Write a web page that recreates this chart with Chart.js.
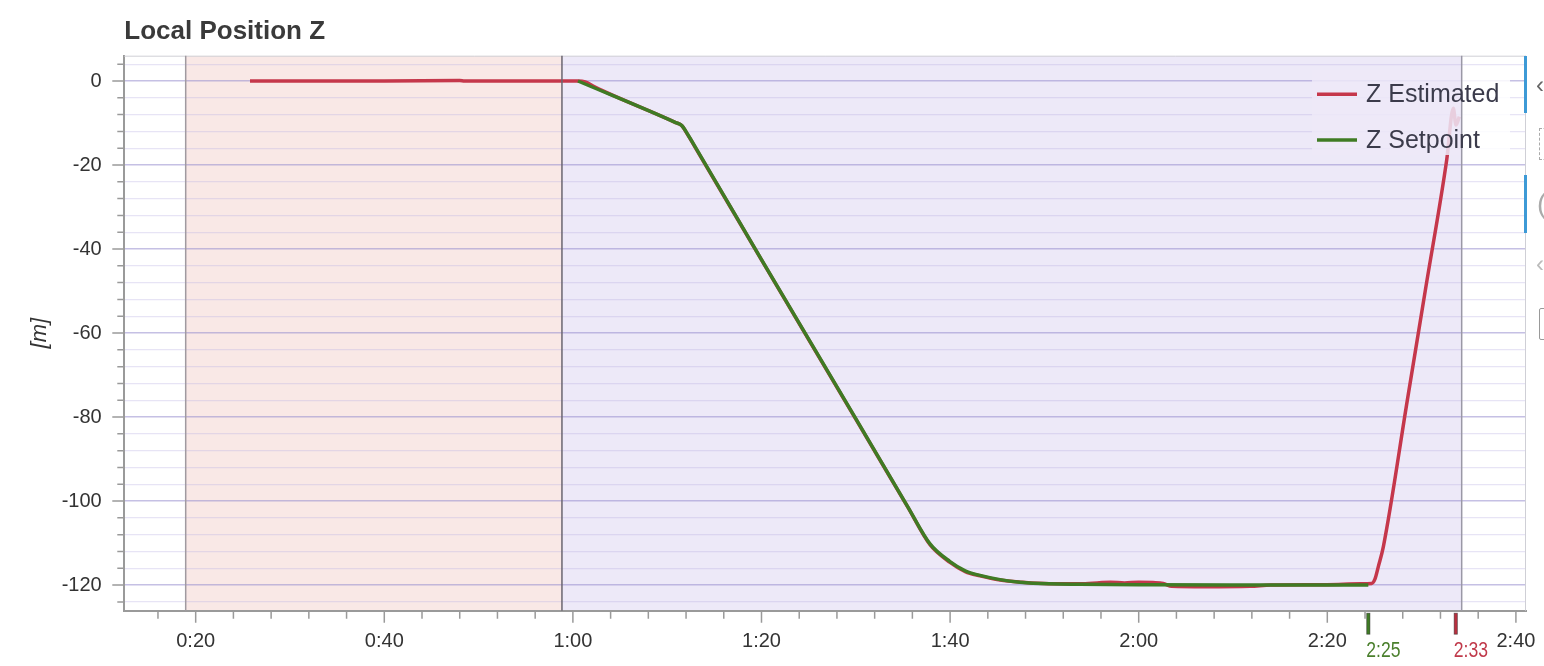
<!DOCTYPE html>
<html>
<head>
<meta charset="utf-8">
<script src="https://cdn.jsdelivr.net/npm/chart.js@4.4.0/dist/chart.umd.min.js"></script>
<style>
  html, body { margin: 0; padding: 0; background: #ffffff; }
  #wrap { position: relative; width: 1544px; height: 666px; overflow: hidden; }
  canvas { display: block; }
  .bar { position: absolute; background: #3d9ad6; width: 3px; }
  .ui { position: absolute; font-family: 'Liberation Sans', Arial, sans-serif; line-height: 1; }
</style>
</head>
<body>
<div id="wrap">
  <canvas id="c" width="1544" height="666"></canvas>
  <div class="bar" style="left:1524px;top:56px;height:57px"></div>
  <div class="bar" style="left:1524px;top:175px;height:58px"></div>
  <div class="ui" style="left:1536px;top:73px;font-size:24px;color:#666">‹</div>
  <div class="ui" style="left:1539px;top:128px;width:10px;height:30px;border:1px dashed #aaa"></div>
  <div class="ui" style="left:1537px;top:190px;font-size:28px;color:#aaa">(</div>
  <div class="ui" style="left:1536px;top:252px;font-size:24px;color:#bbb">‹</div>
  <div class="ui" style="left:1539px;top:308px;width:10px;height:30px;border:1.5px solid #999;border-radius:2px"></div>
</div>
<script>
// ---------------- data ----------------
const seriesNames = ['Z Estimated', 'Z Setpoint'];

// Z Estimated: time [s], z [m]
const estTime = [25.76, 40.0, 48.0, 48.5, 60.54, 61.3, 62.3, 70.9, 71.54, 72.2, 73.0, 80.0, 90.0, 95.5,
                 97.87, 99.99, 101.6, 103.17, 105.3, 107.41, 110.5, 113.77, 115.6, 117.0, 118.5, 120.0, 121.5,
                 122.6, 123.5, 127.0, 131.8, 134.0, 140.0, 143.5, 144.71, 145.05, 145.41, 145.94, 148.5, 150.5,
                 152.66, 153.36, 153.65, 154.0];
const estZ    = [0, 0, 0.1, 0, 0, -0.2, -1.4, -9.9, -10.6, -12.9, -15.9, -42.6, -80.5, -101.4,
                 -110.4, -114.6, -116.8, -117.8, -118.8, -119.3, -119.7, -119.7, -119.5, -119.3, -119.5, -119.3, -119.4,
                 -119.6, -120.3, -120.4, -120.3, -120.0, -119.9, -119.7, -119.6, -118.6, -115.6, -110.9, -75.8, -48.4,
                 -18.8, -6.5, -10.5, -8.5];

// Z Setpoint: time [s], z [m]
const spTime = [60.54, 70.9, 71.54, 72.2, 73.0, 80.0, 90.0, 95.5, 97.87, 99.99, 101.6, 103.17, 105.3, 107.41,
                110.5, 113.77, 120.0, 130.0, 144.35];
const spZ    = [0, -9.9, -10.6, -12.8, -15.8, -42.5, -80.4, -101.3, -110.2, -114.4, -116.6, -117.7, -118.7, -119.3,
                -119.7, -119.8, -119.9, -120.0, -120.0];

// Flight-mode background regions (start, end) in seconds
const regionStart = [18.94, 58.84];
const regionEnd   = [58.84, 154.25];

// Bottom event markers
const markerTimes  = [144.35, 153.62];
const markerLabels = ['2:25', '2:33'];

// Axis ticks
const xTickValues = [20, 40, 60, 80, 100, 120, 140, 160];
const xTickLabels = ['0:20', '0:40', '1:00', '1:20', '1:40', '2:00', '2:20', '2:40'];
const yTickValues = [0, -20, -40, -60, -80, -100, -120];
const yTickLabels = ['0', '-20', '-40', '-60', '-80', '-100', '-120'];

// ---------------- styles ----------------
const FONT = "'Liberation Sans', Arial, Helvetica, sans-serif";
const seriesColors = ['#c5374b', '#3f7b24'];
const regionFills = ['rgba(249,232,230,1)', 'rgba(237,233,248,1)'];
const markerColors = ['#3f7b24', '#b8303f'];
const markerTextColors = ['#4a7f2c', '#c0394a'];

Chart.defaults.font.family = FONT;

const regionPlugin = {
  id: 'regions',
  beforeDraw(chart) {
    const { ctx, chartArea: a, scales: { x } } = chart;
    ctx.save();
    ctx.beginPath();
    ctx.rect(a.left, a.top, a.right - a.left, a.bottom - a.top);
    ctx.clip();
    regionStart.forEach((s, i) => {
      const x0 = x.getPixelForValue(s), x1 = x.getPixelForValue(regionEnd[i]);
      ctx.fillStyle = regionFills[i];
      ctx.fillRect(x0, a.top, x1 - x0, a.bottom - a.top);
    });
    ctx.restore();
  }
};

const overlayPlugin = {
  id: 'overlay',
  afterDatasetsDraw(chart) {
    const { ctx, chartArea: a, scales: { x, y } } = chart;
    ctx.save();

    // legend background box
    const lbL = 1312, lbR = 1510, lbT = 70, lbB = 155;
    const pEnd = x.getPixelForValue(regionEnd[regionEnd.length - 1]);
    ctx.fillStyle = 'rgba(237,233,248,0.85)';
    ctx.fillRect(lbL, lbT, Math.min(pEnd, lbR) - lbL, lbB - lbT);
    ctx.fillStyle = 'rgba(255,255,255,0.85)';
    ctx.fillRect(pEnd, lbT, lbR - pEnd, lbB - lbT);

    // top / right frame
    ctx.strokeStyle = '#cfcfd6';
    ctx.lineWidth = 1;
    ctx.beginPath();
    ctx.moveTo(a.left, a.top + 0.5); ctx.lineTo(a.right, a.top + 0.5);
    ctx.moveTo(a.right - 0.5, a.top); ctx.lineTo(a.right - 0.5, a.bottom);
    ctx.stroke();

    // region boundary lines
    const bounds = [regionStart[0], regionEnd[0], regionEnd[1]];
    const bColors = ['#a09aa0', '#6a6670', '#9a98a6'];
    bounds.forEach((t, i) => {
      const px = x.getPixelForValue(t);
      ctx.strokeStyle = bColors[i];
      ctx.lineWidth = 1.5;
      ctx.beginPath();
      ctx.moveTo(px, a.top); ctx.lineTo(px, a.bottom);
      ctx.stroke();
    });

    // tick marks
    ctx.strokeStyle = '#9a9a9a';
    ctx.lineWidth = 1.5;
    ctx.beginPath();
    x.ticks.forEach(t => {
      const px = x.getPixelForValue(t.value);
      const len = xTickValues.includes(t.value) ? 12 : 8;
      ctx.moveTo(px, a.bottom); ctx.lineTo(px, a.bottom + len);
    });
    y.ticks.forEach(t => {
      const py = y.getPixelForValue(t.value);
      const len = yTickValues.includes(t.value) ? 12 : 7;
      ctx.moveTo(a.left, py); ctx.lineTo(a.left - len, py);
    });
    ctx.stroke();

    // event markers
    markerTimes.forEach((t, i) => {
      const px = x.getPixelForValue(t);
      ctx.fillStyle = markerColors[i];
      ctx.fillRect(px - 1.6, a.bottom + 2.5, 3.2, 21);
      ctx.strokeStyle = 'rgba(40,40,40,0.6)';
      ctx.lineWidth = 0.8;
      ctx.strokeRect(px - 1.6, a.bottom + 2.5, 3.2, 21);
      ctx.save();
      ctx.translate(px - 2, a.bottom + 40);
      ctx.scale(0.8, 1);
      ctx.fillStyle = markerTextColors[i];
      ctx.font = '22px ' + FONT;
      ctx.textBaseline = 'middle';
      ctx.textAlign = 'left';
      ctx.fillText(markerLabels[i], 0, 0);
      ctx.restore();
    });

    // legend
    chart.data.datasets.forEach((ds, i) => {
      const ly = 94.3 + i * 45.7;
      ctx.strokeStyle = ds.borderColor;
      ctx.lineWidth = 3.5;
      ctx.beginPath();
      ctx.moveTo(1317, ly); ctx.lineTo(1357, ly);
      ctx.stroke();
      ctx.fillStyle = '#3b3b4b';
      ctx.font = '25px ' + FONT;
      ctx.textBaseline = 'middle';
      ctx.textAlign = 'left';
      ctx.fillText(ds.label, 1366, ly + 1);
    });

    ctx.restore();
  }
};

new Chart(document.getElementById('c'), {
  type: 'line',
  data: {
    datasets: [
      { label: seriesNames[0], data: estTime.map((t, i) => ({ x: t, y: estZ[i] })),
        borderColor: seriesColors[0], borderWidth: 3.5, pointRadius: 0, fill: false,
        cubicInterpolationMode: 'monotone', order: 1 },
      { label: seriesNames[1], data: spTime.map((t, i) => ({ x: t, y: spZ[i] })),
        borderColor: seriesColors[1], borderWidth: 3.5, pointRadius: 0, fill: false,
        cubicInterpolationMode: 'monotone', order: 0 }
    ]
  },
  options: {
    responsive: false,
    animation: false,
    devicePixelRatio: 1,
    layout: { padding: { left: 0, right: 18, top: 0, bottom: 0 } },
    plugins: {
      legend: { display: false },
      tooltip: { enabled: false },
      title: {
        display: true, text: 'Local Position Z', align: 'start', fullSize: false,
        color: '#3a3a3a', font: { size: 26, weight: 'bold', family: FONT },
        padding: { top: 16.6, bottom: 7.9 }
      }
    },
    scales: {
      x: {
        type: 'linear', min: 12.43, max: 161.07,
        afterFit(s) { s.height = 55.3; s.paddingLeft = 0; s.paddingRight = 0; },
        ticks: {
          stepSize: 4, includeBounds: false, autoSkip: false, maxRotation: 0, minRotation: 0,
          padding: 19, color: '#333333', font: { size: 20, family: FONT },
          callback(v) { const i = xTickValues.indexOf(v); return i >= 0 ? xTickLabels[i] : ''; }
        },
        grid: { display: false, drawTicks: false },
        border: { display: true, color: '#9a9a9a', width: 2 }
      },
      y: {
        type: 'linear', min: -126.1, max: 6.02,
        afterFit(s) { s.width = 124.3; s.paddingTop = 0; s.paddingBottom = 0; },
        ticks: {
          stepSize: 4, includeBounds: false, autoSkip: false,
          padding: 22.6, color: '#333333', font: { size: 20, family: FONT },
          callback(v) { const i = yTickValues.indexOf(v); return i >= 0 ? yTickLabels[i] : ''; }
        },
        grid: {
          drawTicks: false,
          color(ctx) { return (ctx.tick && ctx.tick.value % 20 === 0) ? 'rgba(150,140,205,0.55)' : 'rgba(185,178,225,0.35)'; },
          lineWidth(ctx) { return (ctx.tick && ctx.tick.value % 20 === 0) ? 1.5 : 1.2; }
        },
        border: { display: true, color: '#9a9a9a', width: 2 },
        title: {
          display: true, text: '[m]', color: '#333333',
          font: { size: 22, style: 'italic', family: FONT },
          padding: { top: 26.8, bottom: 0 }
        }
      }
    }
  },
  plugins: [regionPlugin, overlayPlugin]
});
</script>
</body>
</html>
